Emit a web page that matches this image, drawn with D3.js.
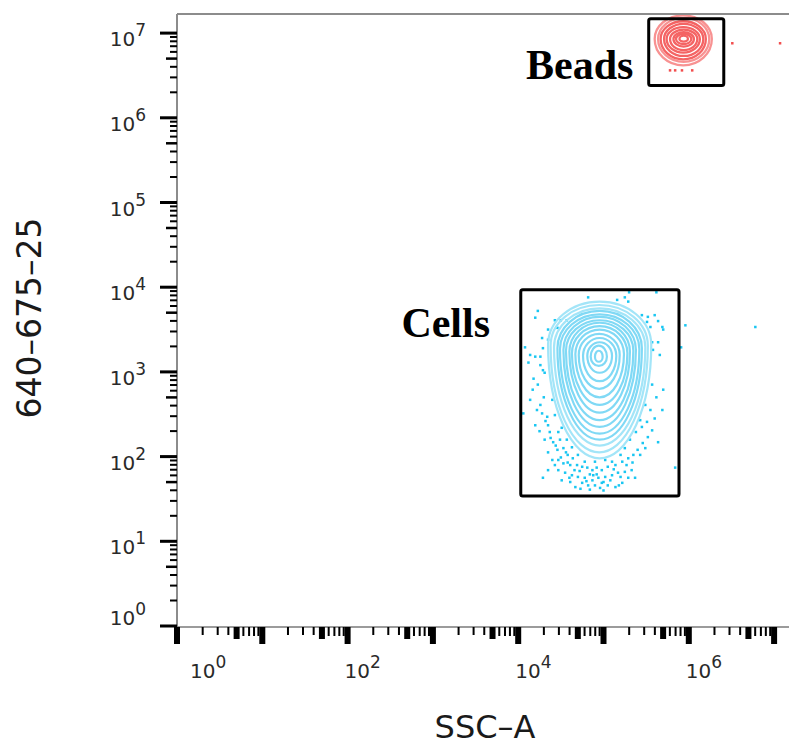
<!DOCTYPE html>
<html>
<head>
<meta charset="utf-8">
<script src="https://cdn.jsdelivr.net/npm/d3@7"></script>
<style>
body { margin:0; background:#fff; }
</style>
</head>
<body>
<div id="chart"></div>
<script>
// all values in log10 units (decades)
var decades = [0, 1, 2, 3, 4, 5, 6, 7];
var tickSteps = [1, 2, 3, 4, 5, 6, 7, 8, 9];
var xLabelDecades = [0, 2, 4, 6];
var yLabelDecades = [0, 1, 2, 3, 4, 5, 6, 7];

// gates
var gateNames = ["Beads", "Cells"];
var gateX0 = [5.53, 4.03];
var gateX1 = [6.41, 5.885];
var gateY0 = [6.38, 1.535];
var gateY1 = [7.17, 3.97];
var gateLabelX = [5.35, 3.67];
var gateLabelY = [6.46, 3.41];

// contour rings, outer -> inner
var beadRingLeft   = [5.60, 5.64, 5.67, 5.71, 5.74, 5.78, 5.82, 5.85, 5.89];
var beadRingRight  = [6.27, 6.24, 6.20, 6.17, 6.13, 6.10, 6.06, 6.03, 5.99];
var beadRingTop    = [7.21, 7.18, 7.14, 7.11, 7.07, 7.04, 7.01, 6.99, 6.97];
var beadRingBottom = [6.62, 6.66, 6.69, 6.73, 6.77, 6.80, 6.84, 6.87, 6.90];
var beadRingMid    = [6.93, 6.93, 6.93, 6.93, 6.93, 6.93, 6.93, 6.93, 6.93];

var cellRingLeft   = [4.35, 4.38, 4.42, 4.46, 4.49, 4.53, 4.56, 4.60, 4.63, 4.67, 4.71, 4.76, 4.81, 4.85, 4.90];
var cellRingRight  = [5.56, 5.52, 5.49, 5.45, 5.42, 5.38, 5.35, 5.31, 5.28, 5.24, 5.19, 5.15, 5.10, 5.04, 4.99];
var cellRingTop    = [3.83, 3.79, 3.75, 3.72, 3.68, 3.65, 3.61, 3.58, 3.54, 3.50, 3.45, 3.40, 3.35, 3.31, 3.25];
var cellRingBottom = [1.98, 2.05, 2.13, 2.20, 2.27, 2.35, 2.43, 2.52, 2.61, 2.70, 2.80, 2.89, 2.99, 3.07, 3.12];
var cellRingMid    = [3.32, 3.31, 3.29, 3.28, 3.27, 3.26, 3.25, 3.24, 3.22, 3.21, 3.20, 3.19, 3.19, 3.18, 3.18];

// outlier events [SSC-A, 640-675-25]
var beadEvents = [[5.78, 6.56], [5.84, 6.56], [5.92, 6.56], [6.04, 6.56], [6.51, 6.88], [7.07, 6.88]];
var cellEvents = [
  [5.30, 3.94], [5.62, 3.94], [4.82, 3.88], [5.25, 3.88], [5.16, 3.85], [5.29, 3.83],
  [4.23, 3.72], [4.20, 3.64], [4.43, 3.61], [4.50, 3.61], [4.57, 3.61], [5.45, 3.67],
  [5.52, 3.65], [5.60, 3.67], [5.51, 3.59], [5.55, 3.53], [5.64, 3.60], [5.69, 3.53],
  [5.70, 3.50], [4.46, 3.52], [4.35, 3.50], [4.28, 3.40], [4.35, 3.38], [4.29, 3.28],
  [4.08, 3.29], [4.14, 3.20], [4.20, 3.18], [4.26, 3.18], [4.12, 3.11], [4.26, 3.08],
  [4.29, 3.02], [4.31, 2.99], [5.57, 3.35], [5.64, 3.35], [5.58, 3.26], [5.66, 3.20],
  [5.91, 3.29], [4.17, 2.79], [4.23, 2.85], [5.57, 2.85], [5.70, 2.79], [5.96, 3.55],
  [6.78, 3.53],
  [4.26, 2.61], [4.22, 2.55], [4.28, 2.51], [4.34, 2.47], [4.20, 2.37], [4.35, 2.37],
  [4.37, 2.29], [4.47, 2.29], [4.31, 2.20], [4.41, 2.17], [4.49, 2.20], [4.35, 2.05],
  [4.46, 2.08], [4.53, 2.10], [4.58, 2.02], [4.64, 1.98], [4.47, 1.96], [4.53, 1.92],
  [4.61, 1.90], [4.69, 1.90], [4.75, 1.88], [4.81, 1.87], [4.87, 1.84], [4.92, 1.87],
  [4.98, 1.84], [5.05, 1.88], [5.14, 1.90], [5.22, 1.94], [5.29, 1.98], [5.35, 2.02],
  [5.40, 2.08], [5.46, 2.16], [5.52, 2.23], [5.57, 2.31], [5.45, 2.35], [5.51, 2.41],
  [5.55, 2.55], [5.64, 2.17], [5.69, 2.55], [5.84, 1.87], [4.47, 1.84], [4.55, 1.81],
  [4.63, 1.78], [4.70, 1.76], [4.78, 1.75], [4.87, 1.72], [4.94, 1.75], [5.02, 1.76],
  [5.10, 1.78], [5.17, 1.81], [5.25, 1.82], [5.33, 1.84], [4.75, 1.69], [4.82, 1.66],
  [4.90, 1.66], [4.98, 1.69], [5.05, 1.66], [5.14, 1.64], [5.22, 1.69], [4.29, 1.75],
  [4.35, 1.84], [4.51, 1.72], [5.37, 1.75], [4.06, 2.51],
  [4.56, 2.05], [4.66, 1.84], [4.84, 1.79], [4.90, 1.94], [5.02, 1.96], [5.10, 1.94],
  [4.78, 1.94], [4.70, 2.02], [5.20, 2.02], [5.25, 2.10], [4.63, 2.11], [5.31, 2.20],
  [4.57, 2.20], [5.38, 2.29], [4.51, 2.34], [5.43, 2.43], [4.43, 2.49], [5.49, 2.61],
  [4.40, 2.67], [4.61, 1.70], [4.84, 1.61], [4.96, 1.63], [5.29, 1.75], [4.43, 1.90],
  [4.92, 1.79], [5.08, 1.72], [4.67, 1.64], [4.14, 2.67],
  [4.58, 1.93], [4.72, 1.83], [4.80, 1.71], [4.88, 1.78], [5.00, 1.70], [5.12, 1.85],
  [5.20, 1.76], [5.27, 1.90], [5.34, 1.93], [4.50, 1.99], [4.40, 1.96], [4.44, 2.13],
  [4.38, 2.22], [5.43, 2.02], [5.49, 2.10], [4.60, 1.75], [4.73, 1.62], [5.00, 1.60],
  [5.18, 1.66], [4.32, 2.42], [4.25, 2.30], [5.60, 2.45], [5.62, 2.70], [4.30, 2.70],
  [4.18, 2.92]
];

var W = 789, H = 745;
var plotLeft = 177, plotTop = 14, plotBottom = 626, plotRight = 789;

function p10(v) { return Math.pow(10, v); }

var x = d3.scaleLog().domain([1, 1e7]).range([177, 774.1]);
var y = d3.scaleLog().domain([1, 1e7]).range([626, 33.1]);

var svg = d3.select("#chart").append("svg")
  .attr("width", W)
  .attr("height", H);

svg.append("clipPath").attr("id", "plotclip")
  .append("rect")
  .attr("x", plotLeft).attr("y", plotTop)
  .attr("width", plotRight - plotLeft).attr("height", plotBottom - plotTop);

var plot = svg.append("g").attr("clip-path", "url(#plotclip)");

// outlier dots
plot.selectAll(".cellDot")
  .data(cellEvents)
  .enter().append("rect")
  .attr("x", function(d) { return x(p10(d[0])) - 1.25; })
  .attr("y", function(d) { return y(p10(d[1])) - 1.25; })
  .attr("width", 2.5).attr("height", 2.5)
  .style("fill", "#19c6f2");

plot.selectAll(".beadDot")
  .data(beadEvents)
  .enter().append("rect")
  .attr("x", function(d) { return x(p10(d[0])) - 1.25; })
  .attr("y", function(d) { return y(p10(d[1])) - 1.25; })
  .attr("width", 2.5).attr("height", 2.5)
  .style("fill", "#f24e4e");

function ringPath(l, r, t, b, m) {
  var xl = x(p10(l)), xr = x(p10(r));
  var yt = y(p10(t)), yb = y(p10(b)), ym = y(p10(m));
  var rx = (xr - xl) / 2;
  return "M" + xl + "," + ym +
    "A" + rx + "," + (ym - yt) + " 0 0 1 " + xr + "," + ym +
    "A" + rx + "," + (yb - ym) + " 0 0 1 " + xl + "," + ym + "Z";
}

plot.selectAll(".cellRing")
  .data(cellRingLeft)
  .enter().append("path")
  .attr("d", function(d, i) {
    return ringPath(cellRingLeft[i], cellRingRight[i], cellRingTop[i], cellRingBottom[i], cellRingMid[i]);
  })
  .style("fill", "none")
  .style("stroke", function(d, i) { return i < 3 ? "#a3e5f8" : "#80d9f5"; })
  .style("stroke-width", 2.2);

plot.selectAll(".beadRing")
  .data(beadRingLeft)
  .enter().append("path")
  .attr("d", function(d, i) {
    return ringPath(beadRingLeft[i], beadRingRight[i], beadRingTop[i], beadRingBottom[i], beadRingMid[i]);
  })
  .style("fill", "none")
  .style("stroke", function(d, i) { return i < 2 ? "#f89292" : "#f46464"; })
  .style("stroke-width", 2.3);

// gates
svg.selectAll(".gate")
  .data(gateNames)
  .enter().append("rect")
  .attr("x", function(d, i) { return x(p10(gateX0[i])); })
  .attr("y", function(d, i) { return y(p10(gateY1[i])); })
  .attr("width", function(d, i) { return x(p10(gateX1[i])) - x(p10(gateX0[i])); })
  .attr("height", function(d, i) { return y(p10(gateY0[i])) - y(p10(gateY1[i])); })
  .attr("rx", 2)
  .style("fill", "none")
  .style("stroke", "#000")
  .style("stroke-width", 3);

svg.selectAll(".gateLabel")
  .data(gateNames)
  .enter().append("text")
  .attr("x", function(d, i) { return x(p10(gateLabelX[i])); })
  .attr("y", function(d, i) { return y(p10(gateLabelY[i])); })
  .attr("text-anchor", "end")
  .style("font-family", "'Liberation Serif', serif")
  .style("font-weight", "bold")
  .style("font-size", "42px")
  .style("fill", "#000")
  .text(function(d) { return d; });

// frame
svg.append("line")
  .attr("x1", plotLeft).attr("x2", plotRight)
  .attr("y1", plotTop).attr("y2", plotTop)
  .style("stroke", "#8c8c8c").style("stroke-width", 2);
svg.append("line")
  .attr("x1", plotLeft).attr("x2", plotLeft)
  .attr("y1", plotTop).attr("y2", plotBottom + 1)
  .style("stroke", "#8c8c8c").style("stroke-width", 2);
svg.append("line")
  .attr("x1", plotLeft).attr("x2", plotRight)
  .attr("y1", plotBottom + 1).attr("y2", plotBottom + 1)
  .style("stroke", "#7a7a7a").style("stroke-width", 1.5);

// tick values
var tickVals = [];
decades.forEach(function(d) {
  tickSteps.forEach(function(k) { tickVals.push({v: k * p10(d), k: k}); });
});

function xTickLen(k) { return k == 1 ? 17 : k == 5 ? 12 : k >= 6 ? 9 : 8; }
function xTickW(k) { return (k == 1 || k == 5) ? 6 : 2; }
function yTickLen(k) { return k == 1 ? 17 : k == 5 ? 11 : 7; }
function yTickW(k) { return k == 1 ? 3 : k == 5 ? 2.5 : 2; }

svg.selectAll(".xtick")
  .data(tickVals.filter(function(t) { return x(t.v) <= plotRight; }))
  .enter().append("rect")
  .attr("x", function(t) { return x(t.v) - xTickW(t.k) / 2; })
  .attr("y", plotBottom + 1)
  .attr("width", function(t) { return xTickW(t.k); })
  .attr("height", function(t) { return xTickLen(t.k); })
  .style("fill", "#000");

svg.selectAll(".ytick")
  .data(tickVals.filter(function(t) { return y(t.v) >= plotTop; }))
  .enter().append("rect")
  .attr("x", function(t) { return plotLeft - yTickLen(t.k); })
  .attr("y", function(t) { return y(t.v) - yTickW(t.k) / 2; })
  .attr("width", function(t) { return yTickLen(t.k); })
  .attr("height", function(t) { return yTickW(t.k); })
  .style("fill", "#000");

// tick labels
var xl = svg.selectAll(".xlabel")
  .data(xLabelDecades)
  .enter().append("text")
  .attr("x", function(d) { return Math.max(x(p10(d)) - 3, plotLeft + 13); })
  .attr("y", 678)
  .style("font-family", "'DejaVu Sans', sans-serif")
  .style("font-size", "20px")
  .style("fill", "#2a2a2a");
xl.append("tspan").text("10");
xl.append("tspan").attr("dy", -10).style("font-size", "17px").text(function(d) { return d; });

var yl = svg.selectAll(".ylabel")
  .data(yLabelDecades)
  .enter().append("text")
  .attr("x", 146)
  .attr("y", function(d) { return Math.min(y(p10(d)) + 13, 625); })
  .attr("text-anchor", "end")
  .style("font-family", "'DejaVu Sans', sans-serif")
  .style("font-size", "20px")
  .style("fill", "#2a2a2a");
yl.append("tspan").text("10");
yl.append("tspan").attr("dy", -10).style("font-size", "17px").text(function(d) { return d; });

// axis titles
svg.append("text")
  .attr("x", 485)
  .attr("y", 738)
  .attr("text-anchor", "middle")
  .style("font-family", "'DejaVu Sans', sans-serif")
  .style("font-size", "32px")
  .style("fill", "#1a1a1a")
  .text("SSC\u2013A");

svg.append("text")
  .attr("transform", "translate(41,318) rotate(-90)")
  .attr("text-anchor", "middle")
  .style("font-family", "'DejaVu Sans', sans-serif")
  .style("font-size", "33px")
  .style("fill", "#1a1a1a")
  .text("640\u2013675\u201325");
</script>
</body>
</html>
